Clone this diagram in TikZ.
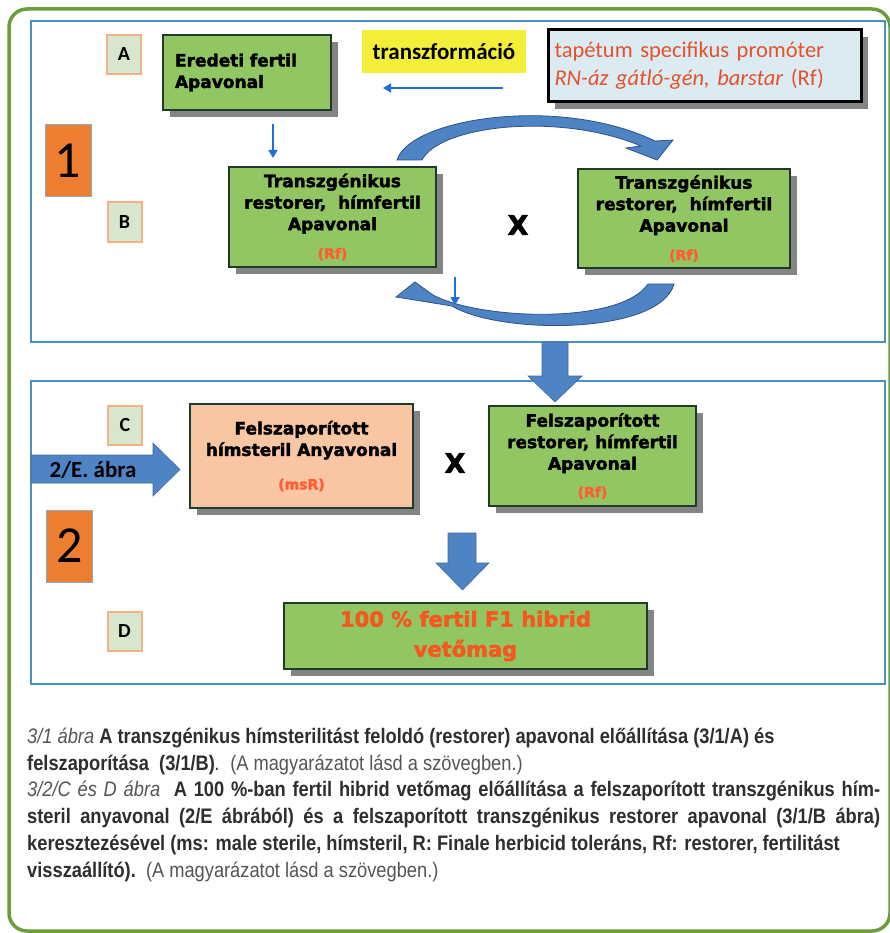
\documentclass[tikz,border=0pt]{standalone}
\usepackage{fontspec}
\usetikzlibrary{shadows,arrows.meta}
\setmainfont{Liberation Sans}
\newfontfamily\carl{Carlito}
\newfontfamily\djb[BoldFeatures={FakeBold=2.2}]{DejaVu Sans}
\newfontfamily\capf[FakeStretch=0.87]{Liberation Sans}

\definecolor{framegreen}{HTML}{6B9E3B}
\definecolor{panelblue}{HTML}{4A90C8}
\definecolor{boxgreen}{HTML}{92C662}
\definecolor{boxedge}{HTML}{223A2C}
\definecolor{peach}{HTML}{F8C6A2}
\definecolor{lblfill}{HTML}{D8E6CE}
\definecolor{lbledge}{HTML}{F4B183}
\definecolor{numorange}{HTML}{ED7D31}
\definecolor{numedge}{HTML}{8FA8C4}
\definecolor{arrowblue}{HTML}{4F84C4}
\definecolor{arrowedge}{HTML}{2E5282}
\definecolor{thinblue}{HTML}{1F6FD6}
\definecolor{rfred}{HTML}{FF5E33}
\definecolor{bigred}{HTML}{F5581F}
\definecolor{tapred}{HTML}{E2522E}
\definecolor{tapfill}{HTML}{DCEBF2}
\definecolor{yel}{HTML}{F2EE3A}
\definecolor{capdark}{HTML}{2E2E2E}
\definecolor{caplight}{HTML}{555555}

\begin{document}
\begin{tikzpicture}[x=1pt,y=-1pt,
  panel/.style={draw=panelblue,line width=2pt},
  lbl/.style={draw=lbledge,fill=lblfill,line width=2pt,minimum width=34pt,minimum height=39pt,inner sep=0pt,font=\carl\bfseries\fontsize{20}{20}\selectfont},
  numbox/.style={fill=numorange,draw=numedge,line width=1pt,minimum width=46pt,minimum height=72pt,inner sep=0pt,font=\carl\fontsize{52}{52}\selectfont},
  boxshadow/.style={drop shadow={shadow xshift=7pt,shadow yshift=-7pt,fill=black!60,opacity=0.8}},
  gbox/.style={fill=boxgreen,draw=boxedge,line width=1.8pt,inner sep=0pt,align=center,font=\djb\bfseries\fontsize{17}{21.5}\selectfont,boxshadow},
  crossx/.style={font=\djb\bfseries\fontsize{27}{27}\selectfont},
  thinarrow/.style={draw=thinblue,line width=2pt,-{Triangle[length=8pt,width=9pt]}},
  curvearrow/.style={fill=arrowblue,draw=arrowedge,line width=0.8pt},
  blockarrow/.style={fill=arrowblue,draw=arrowblue!80!black,line width=0.6pt},
  capline/.style={anchor=base west,inner sep=0pt,font=\capf\fontsize{21}{27}\selectfont,text=capdark}
]
\useasboundingbox (0,0) rectangle (890,933);
\fill[white] (0,0) rectangle (890,933);

% outer frame and panels
\draw[framegreen,line width=3.5pt,rounded corners=18pt] (9,9) rectangle (890,931);
\draw[panel] (31,21) rectangle (885,342);
\draw[panel] (31,381) rectangle (885,684);

% ---------- panel 1 ----------
\node[lbl] (lA) at (124,54.5) {A};
\node[gbox,minimum width=168pt,minimum height=75pt,text width=144pt,align=left] (ered) at (247,72.5) {Eredeti fertil\\Apavonal};
\node[fill=yel,minimum width=164pt,minimum height=43pt,inner sep=0pt,font=\carl\bfseries\fontsize{23}{23}\selectfont] (trf) at (444,51.5) {transzformáció};
\node[fill=tapfill,draw=black,line width=3pt,minimum width=313pt,minimum height=72pt,text width=300pt,align=left,inner sep=0pt,font=\carl\fontsize{22.5}{28}\selectfont,text=tapred,boxshadow] (tap) at (704.5,66) {tapétum specifikus promóter\\\textit{RN-áz gátló-gén, barstar} (Rf)};

\coordinate (t1) at (503,88);
\coordinate (t2) at (383,88);
\draw[thinarrow] (t1) -- (t2);

\node[numbox] (n1) at (68,161) {1};

\coordinate (d1) at (273,124);
\coordinate (d2) at (273,158);
\draw[thinarrow] (d1) -- (d2);

\node[lbl] (lB) at (124.5,222) {B};
\node[gbox,minimum width=207pt,minimum height=100pt] (trL) at (332.5,217) {Transzgénikus\\restorer,\ \ hímfertil\\Apavonal\\[7pt]{\fontsize{14}{14}\selectfont\color{rfred}(Rf)}};
\node[crossx] (x1) at (518,225) {X};
\node[gbox,minimum width=212pt,minimum height=99pt] (trR) at (684,218.5) {Transzgénikus\\restorer,\ \ hímfertil\\Apavonal\\[7pt]{\fontsize{14}{14}\selectfont\color{rfred}(Rf)}};

% curved arrows
\draw[curvearrow] (397,160) .. controls (410,118) and (560,95) .. (655,141)
  -- (673,140) -- (657,160) -- (626,148) -- (641,146)
  .. controls (560,112) and (440,125) .. (422,160) -- cycle;
\draw[curvearrow] (396,297) -- (415,282) -- (433,295)
  .. controls (480,320) and (620,325) .. (648,284) -- (674,284)
  .. controls (660,335) and (500,335) .. (452,306) -- cycle;

\coordinate (s1) at (455,277);
\coordinate (s2) at (455,305);
\draw[thinarrow] (s1) -- (s2);

% block arrow between panels
\draw[blockarrow] (542,342) -- (568,342) -- (568,376) -- (582,376) -- (555,402) -- (528,376) -- (542,376) -- cycle;

% ---------- panel 2 ----------
\node[lbl] (lC) at (125,425) {C};
\draw[blockarrow] (31,455) -- (153,455) -- (153,443) -- (180,469.5) -- (153,496) -- (153,483) -- (31,483) -- cycle;
\node[font=\carl\bfseries\fontsize{23}{23}\selectfont] (ea) at (93,470) {2/E. ábra};

\node[gbox,fill=peach,minimum width=223pt,minimum height=104pt] (anya) at (301.5,456) {Felszaporított\\hímsteril Anyavonal\\[12pt]{\fontsize{14}{14}\selectfont\color{rfred}(msR)}};
\node[crossx] (x2) at (455,463) {X};
\node[gbox,minimum width=207pt,minimum height=100pt] (apa) at (592.5,456) {Felszaporított\\restorer, hímfertil\\Apavonal\\[6pt]{\fontsize{14}{14}\selectfont\color{rfred}(Rf)}};

\node[numbox] (n2) at (69.5,546) {2};

\draw[blockarrow] (448,533) -- (476,533) -- (476,563) -- (489,563) -- (462.5,590) -- (436,563) -- (448,563) -- cycle;

\node[lbl] (lD) at (124.5,631) {D};
\node[gbox,minimum width=363pt,minimum height=66pt,text=bigred,font=\djb\bfseries\fontsize{21}{30}\selectfont] (f1) at (465.5,636) {100 \% fertil F1 hibrid\\vetőmag};

% ---------- caption ----------
\node[capline] (c1) at (27,743) {{\color{caplight}\textit{3/1 ábra}} \textbf{A transzgénikus hímsterilitást feloldó (restorer) apavonal előállítása (3/1/A) és}};
\node[capline] (c2) at (27,770) {\textbf{felszaporítása\ \ (3/1/B)}\textit{.}\ \ {\color{caplight}(A magyarázatot lásd a szövegben.)}};
\node[capline] (c3) at (27,796.5) {\makebox[853pt][s]{{\color{caplight}\textit{3/2/C és D ábra}}\ \ \textbf{A 100 \%-ban fertil hibrid vetőmag előállítása a felszaporított transzgénikus hím-}}};
\node[capline] (c4) at (27,823) {\makebox[853pt][s]{\textbf{steril anyavonal (2/E ábrából) és a felszaporított transzgénikus restorer apavonal (3/1/B ábra)}}};
\node[capline] (c5) at (27,850) {\textbf{keresztezésével (ms: male sterile, hímsteril, R: Finale herbicid toleráns, Rf: restorer, fertilitást}};
\node[capline] (c6) at (27,877) {\textbf{visszaállító).}\ \ {\color{caplight}(A magyarázatot lásd a szövegben.)}};
\end{tikzpicture}
\end{document}
